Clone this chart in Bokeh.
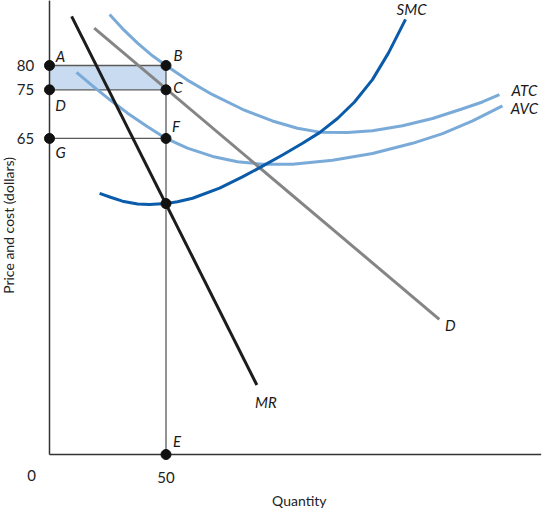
import math
from bokeh.plotting import figure
from bokeh.models import ColumnDataSource, Range1d
from bokeh.core.properties import value
from bokeh.embed import file_html
from bokeh.resources import INLINE

# ---------------- data (quantity, dollars) ----------------
q_out = 50          # output where MR = SMC
price = 75          # price on demand curve at q_out
atc_at_q = 80       # ATC at q_out
avc_at_q = 65       # AVC at q_out
mc_at_q = 51.6      # MR = SMC at q_out

price_ticks = [80, 75, 65]
price_tick_labels = ["80", "75", "65"]
qty_ticks = [50]
qty_tick_labels = ["50"]

q_axis_end = 211.0
p_axis_end = 93.4

mr_q = [9.5, 89.0]
mr_p = [90.1, 14.3]

d_q = [19.2, 167.3]
d_p = [87.7, 27.8]

smc_q = [21.5, 26.2, 31.3, 37.8, 42.9, 50.0, 54.9, 61.4, 73.0, 82.8, 91.4,
         100.0, 108.6, 115.9, 123.6, 130.9, 138.6, 145.5, 152.8]
smc_p = [53.7, 52.9, 52.1, 51.5, 51.4, 51.6, 52.0, 52.7, 54.8, 57.1, 59.3,
         61.6, 64.0, 66.2, 69.1, 72.5, 77.1, 82.6, 89.5]

atc_q = [25.8, 31.3, 37.8, 44.2, 50.0, 59.2, 70.0, 82.8, 95.7, 106.4, 115.9,
         127.9, 138.6, 151.5, 164.4, 177.3, 185.8, 193.1]
atc_p = [90.5, 87.6, 84.6, 82.0, 80.0, 77.0, 74.0, 71.0, 68.6, 67.1, 66.3,
         66.2, 66.6, 67.6, 69.1, 71.1, 72.5, 74.0]

avc_q = [11.6, 18.5, 25.8, 33.5, 42.1, 50.0, 59.2, 70.0, 80.7, 91.4, 104.3,
         121.5, 138.6, 155.8, 168.7, 181.6, 194.4]
avc_p = [78.6, 75.8, 73.0, 70.2, 67.4, 65.0, 63.0, 61.3, 60.2, 59.7, 59.7,
         60.5, 61.9, 64.0, 66.0, 68.6, 71.7]

letters = ["A", "B", "C", "D", "E", "F", "G"]
letter_q = [0, q_out, q_out, 0, q_out, q_out, 0]
letter_p = [atc_at_q, atc_at_q, price, price, 0, avc_at_q, avc_at_q]

# ---------------- figure ----------------
W, H = 546, 511
p = figure(width=W, height=H, output_backend="svg", toolbar_location=None,
           x_range=Range1d(-21.03, 213.3), y_range=Range1d(-11.72, 93.37),
           min_border=0, x_axis_type=None, y_axis_type=None)
p.grid.visible = False
p.outline_line_color = None
p.background_fill_color = "white"
p.border_fill_color = "white"

FONT = value("Lato")
AXIS_COLOR = "#333333"
GUIDE_COLOR = "#5a5a5a"

# shaded loss rectangle
p.quad(left=[0], right=[q_out], bottom=[price], top=[atc_at_q],
       fill_color="#c8dbf0", line_color=None)

# guide lines
p.segment(x0=[0, 0, 0, q_out], y0=[atc_at_q, price, avc_at_q, 0],
          x1=[q_out, q_out, q_out, q_out], y1=[atc_at_q, price, avc_at_q, atc_at_q],
          line_color=GUIDE_COLOR, line_width=1.3)

# axes lines
p.segment(x0=[0, 0], y0=[0, 0], x1=[q_axis_end, 0], y1=[0, p_axis_end],
          line_color=AXIS_COLOR, line_width=1.5)

# curves
LIGHT = "#7aaad8"
p.line(atc_q, atc_p, line_color=LIGHT, line_width=3, line_join="round")
p.line(avc_q, avc_p, line_color=LIGHT, line_width=3, line_join="round")
p.line(d_q, d_p, line_color="#858585", line_width=3)
p.line(mr_q, mr_p, line_color="#1c1c1c", line_width=3)
p.line(smc_q, smc_p, line_color="#0a5ba9", line_width=3, line_join="round")

# dots
dot_q = [0, 0, 0, q_out, q_out, q_out, q_out, q_out]
dot_p = [atc_at_q, price, avc_at_q, atc_at_q, price, avc_at_q, mc_at_q, 0]
p.scatter(dot_q, dot_p, size=10, fill_color="#111111", line_color="#111111")

# letter labels
src_letters = ColumnDataSource(dict(
    x=letter_q, y=letter_p, text=letters,
    dx=[11, 12, 12, 11, 11, 10, 11],
    dy=[-10, -11, -3, 15, -14, -12, 14]))
p.text(x="x", y="y", text="text", x_offset="dx", y_offset="dy", source=src_letters,
       text_font=FONT, text_font_style="italic", text_font_size="15px",
       text_align="center", text_baseline="middle", text_color="#1a1a1a")

# curve labels
src_curves = ColumnDataSource(dict(
    x=[smc_q[-1], atc_q[-1], avc_q[-1], d_q[-1], mr_q[-1]],
    y=[smc_p[-1], atc_p[-1], avc_p[-1], d_p[-1], mr_p[-1]],
    text=["SMC", "ATC", "AVC", "D", "MR"],
    dx=[6, 25, 22, 11, 9],
    dy=[-10, -5, 2, 6, 17]))
p.text(x="x", y="y", text="text", x_offset="dx", y_offset="dy", source=src_curves,
       text_font=FONT, text_font_style="italic", text_font_size="15px",
       text_align="center", text_baseline="middle", text_color="#1a1a1a")

# tick labels
p.text(x=[0] * len(price_ticks), y=price_ticks, text=price_tick_labels,
       x_offset=-24, y_offset=0, text_font=FONT, text_font_size="15px",
       text_align="center", text_baseline="middle", text_color="#222222")
p.text(x=qty_ticks, y=[0] * len(qty_ticks), text=qty_tick_labels,
       x_offset=0, y_offset=23, text_font=FONT, text_font_size="15px",
       text_align="center", text_baseline="middle", text_color="#222222")
p.text(x=[0], y=[0], text=["0"], x_offset=-18, y_offset=21, text_font=FONT,
       text_font_size="15px", text_align="center", text_baseline="middle",
       text_color="#222222")

# axis titles
p.text(x=[q_axis_end / 2], y=[0], text=["Quantity"], x_offset=4, y_offset=46,
       text_font=FONT, text_font_size="14px", text_align="center",
       text_baseline="middle", text_color="#222222")
p.text(x=[0], y=[p_axis_end / 2], text=["Price and cost (dollars)"],
       x_offset=-41, y_offset=-2, angle=math.pi / 2,
       text_font=FONT, text_font_size="14px", text_align="center",
       text_baseline="middle", text_color="#222222")

open("out.html", "w").write(file_html(p, INLINE))
